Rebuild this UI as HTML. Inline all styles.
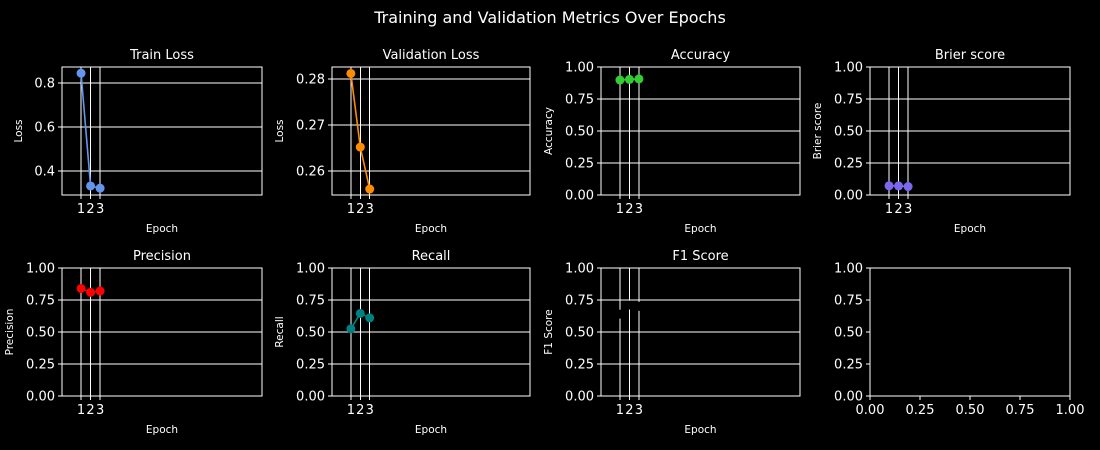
<!DOCTYPE html>
<html><head><meta charset="utf-8"><style>
html,body{margin:0;padding:0;background:#000;}
svg{display:block;font-family:"DejaVu Sans","Liberation Sans",sans-serif;}
.crisp line,.crisp rect{shape-rendering:crispEdges;}
</style></head><body>
<svg id="fig" class="crisp" width="1100" height="450" xmlns="http://www.w3.org/2000/svg">
<rect width="1100" height="450" fill="#000"/>
<text x="550" y="23" fill="#fff" font-size="16" text-anchor="middle">Training and Validation Metrics Over Epochs</text>
</svg>
<script>
const epochs = [1, 2, 3];
const trainLoss = [0.845, 0.332, 0.322];
const valLoss = [0.2812, 0.2652, 0.2561];
const accuracy = [0.898, 0.903, 0.907];
const brier = [0.072, 0.071, 0.066];
const precision = [0.84, 0.81, 0.82];
const recall = [0.525, 0.645, 0.61];
const f1 = [0.64, 0.71, 0.70];
const lossTicks = ["0.4", "0.6", "0.8"];
const valTicks = ["0.26", "0.27", "0.28"];
const unitTicks = ["0.00", "0.25", "0.50", "0.75", "1.00"];
const emptyXTicks = ["0.00", "0.25", "0.50", "0.75", "1.00"];

const svg = document.getElementById('fig');
const NS = 'http://www.w3.org/2000/svg';
function mk(tag, attrs, parent) {
  const e = document.createElementNS(NS, tag);
  for (const k in attrs) e.setAttribute(k, attrs[k]);
  (parent || svg).appendChild(e);
  return e;
}
const cols = [[62, 262], [332, 530], [601, 800], [870, 1070]];
const rows = [[67, 195], [268, 396]];

const panels = [
  {name:'train-loss', title:'Train Loss', ylabel:'Loss', data:trainLoss, color:'#6495ed', ylim:[0.291, 0.873], ticks:lossTicks, c:0, r:0},
  {name:'validation-loss', title:'Validation Loss', ylabel:'Loss', data:valLoss, color:'#ff8c00', ylim:[0.2548, 0.2826], ticks:valTicks, c:1, r:0},
  {name:'accuracy', title:'Accuracy', ylabel:'Accuracy', data:accuracy, color:'#32cd32', ylim:[0, 1], ticks:unitTicks, c:2, r:0},
  {name:'brier-score', title:'Brier score', ylabel:'Brier score', data:brier, color:'#7b68ee', ylim:[0, 1], ticks:unitTicks, c:3, r:0},
  {name:'precision', title:'Precision', ylabel:'Precision', data:precision, color:'#ff0000', ylim:[0, 1], ticks:unitTicks, c:0, r:1},
  {name:'recall', title:'Recall', ylabel:'Recall', data:recall, color:'#008080', ylim:[0, 1], ticks:unitTicks, c:1, r:1},
  {name:'f1-score', title:'F1 Score', ylabel:'F1 Score', data:f1, color:'#000000', ylim:[0, 1], ticks:unitTicks, c:2, r:1}
];

panels.forEach(p => {
  const [x0, x1] = cols[p.c], [y0, y1] = rows[p.r];
  const g = mk('g', {});
  
  
  const xs = v => x0 + (v - (-1)) / 21 * (x1 - x0);
  const ys = v => y1 - (v - p.ylim[0]) / (p.ylim[1] - p.ylim[0]) * (y1 - y0);
  p.ticks.forEach(t => {
    const y = ys(parseFloat(t));
    mk('line', {x1:x0, x2:x1, y1:y, y2:y, stroke:'#fff', 'stroke-width':1}, g);
    mk('line', {x1:x0-4, x2:x0, y1:y, y2:y, stroke:'#fff', 'stroke-width':1}, g);
    const tx = mk('text', {x:x0-7, y:y+4.5, fill:'#fff', 'font-size':13, 'text-anchor':'end'}, g);
    
    
    tx.textContent = t;
  });
  epochs.forEach(e => {
    const x = xs(e);
    mk('line', {x1:x, x2:x, y1:y0, y2:y1+4, stroke:'#fff', 'stroke-width':1}, g);
    const tx = mk('text', {x:x, y:y1+18, fill:'#fff', 'font-size':13, 'text-anchor':'middle'}, g);
    
    
    tx.textContent = String(e);
  });
  mk('rect', {x:x0, y:y0, width:x1-x0, height:y1-y0, fill:'none', stroke:'#fff', 'stroke-width':1}, g);
  const pts = p.data.map((v, i) => xs(epochs[i]) + ',' + ys(v)).join(' ');
  const line = mk('polyline', {points:pts, fill:'none', stroke:p.color, 'stroke-width':1.6}, g);
  
  
  p.data.forEach((v, i) => {
    const c = mk('circle', {cx:xs(epochs[i]), cy:ys(v), r:4.5, fill:p.color}, g);
    
    
  });
  const t = mk('text', {x:(x0+x1)/2, y:y0-8, fill:'#fff', 'font-size':13, 'text-anchor':'middle'}, g);
  
  
  t.textContent = p.title;
  const xl = mk('text', {x:(x0+x1)/2, y:y1+37, fill:'#fff', 'font-size':10.5, 'text-anchor':'middle'}, g);
  
  
  xl.textContent = 'Epoch';
  const lx = p.ticks[0].length > 3 ? x0 - 49 : x0 - 40;
  const yl = mk('text', {x:lx, y:(y0+y1)/2, fill:'#fff', 'font-size':10.5, 'text-anchor':'middle', transform:'rotate(-90 ' + lx + ' ' + ((y0+y1)/2) + ')'}, g);
  
  
  yl.textContent = p.ylabel;
});

(function(){
  const [x0, x1] = cols[3], [y0, y1] = rows[1];
  const g = mk('g', {});
  
  
  mk('rect', {x:x0, y:y0, width:x1-x0, height:y1-y0, fill:'none', stroke:'#fff', 'stroke-width':1}, g);
  unitTicks.forEach(t => {
    const y = y1 - parseFloat(t) * (y1 - y0);
    mk('line', {x1:x0-4, x2:x0, y1:y, y2:y, stroke:'#fff', 'stroke-width':1}, g);
    const tx = mk('text', {x:x0-7, y:y+4.5, fill:'#fff', 'font-size':13, 'text-anchor':'end'}, g);
    
    
    tx.textContent = t;
  });
  emptyXTicks.forEach(t => {
    const x = x0 + parseFloat(t) * (x1 - x0);
    mk('line', {x1:x, x2:x, y1:y1, y2:y1+4, stroke:'#fff', 'stroke-width':1}, g);
    const tx = mk('text', {x:x, y:y1+18, fill:'#fff', 'font-size':13, 'text-anchor':'middle'}, g);
    
    
    tx.textContent = t;
  });
})();
</script>
</body></html>
